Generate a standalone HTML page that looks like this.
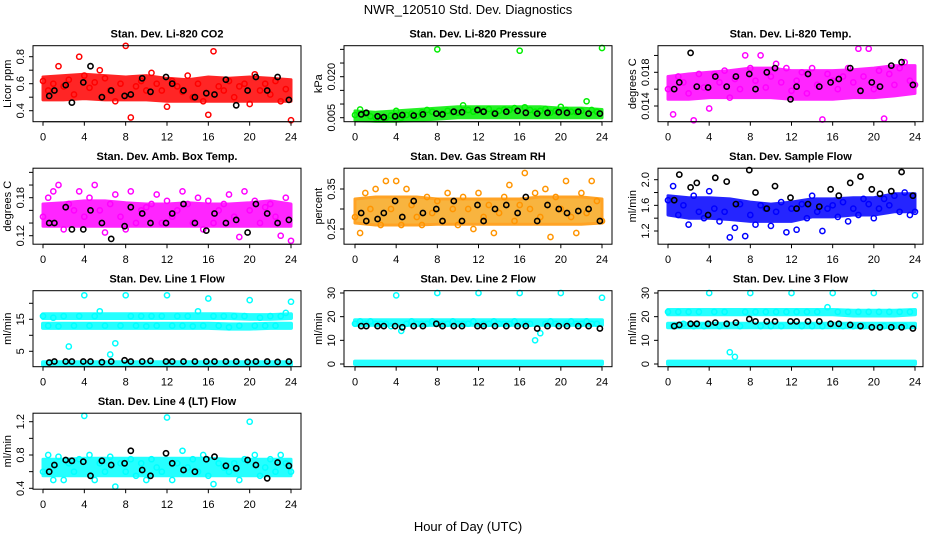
<!DOCTYPE html>
<html><head><meta charset="utf-8"><style>
html,body{margin:0;padding:0;background:#fff}
svg{display:block;font-family:"Liberation Sans",sans-serif}
</style></head><body>
<svg id="chart" width="936" height="540" viewBox="0 0 936 540" xmlns="http://www.w3.org/2000/svg">
<rect width="936" height="540" fill="#fff"/>
<text x="468" y="14" text-anchor="middle" font-size="13">NWR_120510  Std. Dev. Diagnostics</text>
<text x="468" y="531" text-anchor="middle" font-size="13">Hour of Day (UTC)</text>
<g id="panels"></g>
</svg>
<script>
const xTicks = [0,4,8,12,16,20,24];
const halfHours = [0,0.5,1,1.5,2,2.5,3,3.5,4,4.5,5,5.5,6,6.5,7,7.5,8,8.5,9,9.5,10,10.5,11,11.5,12,12.5,13,13.5,14,14.5,15,15.5,16,16.5,17,17.5,18,18.5,19,19.5,20,20.5,21,21.5,22,22.5,23,23.5,24];
const bandHours = [0,2,4,6,8,10,12,14,16,18,20,22,24];
const blackHours = [0.6,1.1,2.2,2.8,3.9,4.6,5.7,6.6,7.9,8.5,9.6,10.4,11.9,12.5,13.6,14.7,15.8,16.6,17.7,18.7,19.8,20.6,21.7,22.7,23.8];

const co2Main = [0.62,0.55,0.60,0.73,0.58,0.63,0.52,0.80,0.66,0.57,0.61,0.70,0.64,0.55,0.47,0.60,0.88,0.35,0.58,0.62,0.55,0.68,0.60,0.55,0.43,0.62,0.58,0.54,0.66,0.50,0.60,0.47,0.37,0.84,0.58,0.55,0.62,0.50,0.58,0.60,0.45,0.67,0.55,0.60,0.52,0.62,0.47,0.56,0.33];
const co2Black = [0.51,0.55,0.59,0.46,0.61,0.73,0.50,0.55,0.51,0.52,0.64,0.54,0.65,0.60,0.55,0.50,0.53,0.52,0.63,0.44,0.55,0.65,0.55,0.65,0.48];
const co2BandLo = [0.48,0.48,0.49,0.48,0.48,0.48,0.47,0.47,0.47,0.47,0.47,0.47,0.47];
const co2BandHi = [0.65,0.66,0.67,0.66,0.65,0.66,0.64,0.63,0.65,0.64,0.65,0.64,0.63];

const presMain = [0.006,0.008,0.0065,0.0055,0.005,0.0045,0.005,0.0058,0.0075,0.005,0.006,0.0065,0.0055,0.007,0.0078,0.0072,0.030,0.0065,0.0075,0.007,0.0068,0.0095,0.0078,0.0072,0.008,0.0075,0.0082,0.0068,0.0075,0.008,0.0078,0.0085,0.0295,0.0088,0.0078,0.0072,0.0075,0.0082,0.0068,0.0075,0.009,0.0078,0.0072,0.007,0.0075,0.011,0.0078,0.0072,0.0305];
const presBlack = [0.0062,0.0068,0.0055,0.0052,0.0055,0.006,0.0058,0.0062,0.0065,0.0062,0.0072,0.007,0.0078,0.0072,0.0065,0.0072,0.0075,0.0068,0.0065,0.0068,0.007,0.0068,0.0072,0.0065,0.0065];
const presBandLo = [0.004,0.0037,0.0037,0.004,0.0045,0.005,0.005,0.005,0.005,0.005,0.005,0.005,0.005];
const presBandHi = [0.0075,0.007,0.0075,0.008,0.0085,0.009,0.009,0.009,0.009,0.009,0.0085,0.0085,0.008];

const tempMain = [0.016,0.0130,0.0175,0.0168,0.0155,0.0123,0.0178,0.0162,0.0137,0.0178,0.0168,0.0182,0.0150,0.0172,0.0160,0.0200,0.0185,0.0170,0.0200,0.0162,0.0175,0.0190,0.0168,0.0185,0.0158,0.0170,0.0180,0.0155,0.0185,0.0165,0.0124,0.0178,0.0170,0.0160,0.0175,0.0185,0.0168,0.0208,0.0175,0.0208,0.0160,0.0182,0.0125,0.0178,0.0165,0.0185,0.0192,0.0170,0.0165];
const tempBlack = [0.016,0.0168,0.0203,0.0163,0.0162,0.0175,0.0163,0.0175,0.0178,0.016,0.018,0.0185,0.0148,0.0163,0.0178,0.0163,0.0168,0.0172,0.0185,0.0158,0.0168,0.0163,0.0188,0.0192,0.0165];
const tempBandLo = [0.0148,0.0148,0.0150,0.0150,0.0150,0.0150,0.0148,0.0148,0.0148,0.0150,0.0150,0.0152,0.0155];
const tempBandHi = [0.0175,0.0178,0.0180,0.0182,0.0185,0.0185,0.0182,0.0182,0.0182,0.0183,0.0185,0.0188,0.0188];

const ambMain = [0.15,0.18,0.19,0.20,0.13,0.17,0.16,0.19,0.15,0.18,0.20,0.16,0.125,0.17,0.185,0.15,0.13,0.19,0.14,0.16,0.165,0.17,0.185,0.14,0.175,0.15,0.16,0.19,0.17,0.14,0.18,0.13,0.175,0.14,0.16,0.17,0.185,0.15,0.118,0.19,0.16,0.175,0.14,0.165,0.17,0.15,0.12,0.18,0.112];
const ambBlack = [0.14,0.14,0.165,0.13,0.13,0.16,0.14,0.115,0.135,0.165,0.155,0.14,0.14,0.155,0.17,0.14,0.128,0.155,0.14,0.145,0.125,0.17,0.155,0.14,0.145];
const ambBandLo = [0.135,0.135,0.135,0.135,0.135,0.135,0.135,0.135,0.135,0.135,0.135,0.135,0.135];
const ambBandHi = [0.17,0.172,0.175,0.175,0.172,0.17,0.17,0.172,0.17,0.17,0.172,0.175,0.17];

const rhMain = [0.28,0.24,0.34,0.30,0.35,0.26,0.37,0.30,0.37,0.26,0.35,0.31,0.28,0.26,0.33,0.29,0.32,0.27,0.34,0.30,0.26,0.33,0.30,0.25,0.34,0.28,0.31,0.24,0.29,0.33,0.36,0.27,0.31,0.39,0.30,0.34,0.28,0.35,0.23,0.33,0.30,0.37,0.28,0.24,0.34,0.29,0.37,0.32,0.27];
const rhBlack = [0.29,0.27,0.275,0.29,0.32,0.28,0.32,0.29,0.30,0.27,0.32,0.27,0.31,0.27,0.30,0.31,0.29,0.33,0.27,0.31,0.30,0.29,0.295,0.30,0.27];
const rhBandLo = [0.265,0.26,0.26,0.26,0.262,0.262,0.262,0.262,0.262,0.262,0.262,0.262,0.265];
const rhBandHi = [0.325,0.33,0.33,0.33,0.325,0.325,0.325,0.325,0.325,0.33,0.33,0.33,0.325];

const flowMain = [1.68,1.90,1.45,1.60,1.30,1.75,1.50,1.40,1.82,1.55,1.35,1.50,1.10,1.25,1.62,1.12,1.45,1.30,1.60,1.55,1.28,1.50,1.65,1.18,1.55,1.22,1.62,1.40,1.75,1.50,1.20,1.55,1.60,1.42,1.65,1.35,1.55,1.45,1.70,1.62,1.40,1.55,1.70,1.60,1.75,1.50,1.80,1.45,1.50];
const flowBlack = [1.68,2.08,1.88,1.95,1.45,2.03,1.97,1.62,2.15,1.80,1.55,1.90,1.72,1.55,1.62,1.58,1.85,1.75,1.95,2.05,1.85,1.78,1.82,2.12,1.75];
const flowBandLo = [1.45,1.40,1.40,1.38,1.35,1.35,1.35,1.42,1.42,1.45,1.45,1.50,1.50];
const flowBandHi = [1.75,1.72,1.72,1.70,1.65,1.62,1.65,1.70,1.70,1.72,1.72,1.78,1.78];

const line1Main = [16,13,15.5,12.8,16,6.5,13,16,22.5,13,16,17.5,13,4,7.5,13,22.5,16,13,16,12.8,16,13,16,22.5,13,16,13,16,12.8,17.5,13,21.5,16,13,16,12.5,16,13,16,21,13,15.5,13,16,13,16,17,20.5];
const line1Black = [1.5,1.8,1.8,1.8,1.8,1.8,1.6,1.8,2.2,1.8,1.8,2.0,1.8,1.8,1.8,1.8,1.8,1.8,1.8,1.8,1.7,1.8,1.8,1.7,1.8];
const line1Band1Lo = [15.4,15.4,15.4,15.4,15.4,15.4,15.4,15.4,15.4,15.4,15.2,15.2,15.4];
const line1Band1Hi = [16.6,16.6,16.6,16.6,16.6,16.6,16.6,16.6,16.6,16.6,16.3,16.3,16.6];
const line1Band2Lo = [12.3,12.3,12.3,12.3,12.3,12.3,12.3,12.3,12.3,12.1,12.1,12.3,12.3];
const line1Band2Hi = [13.6,13.6,13.6,13.6,13.6,13.6,13.6,13.6,13.6,13.4,13.4,13.6,13.6];
const line1Band3Lo = [0.8,0.8,0.8,0.8,0.8,0.8,0.8,0.8,0.8,0.8,0.8,0.8,0.8];
const line1Band3Hi = [1.6,1.6,1.6,1.6,1.6,1.6,1.6,1.6,1.6,1.6,1.6,1.6,1.6];

const line2Main = [17,18,17,18,17,17,17,16,29,14,17,18,17,17,17,18,30,17,17,18,17,17,17,18,30,17,17,18,17,17,17,18,30,17,17,10,13,17,18,17,30,17,18,17,17,18,17,17,28];
const line2Black = [16,16,16,16,16,15.5,16,16,17,16,16,16,16,16,16,16,16,16,15,16,16,16,16,16,15];
const line2Band1Lo = [16.5,16.5,16.5,16.5,16.5,16.5,16.5,16.5,16.5,16.5,16.5,16.5,16.5];
const line2Band1Hi = [18.5,18.5,18.5,18.5,18.5,18.5,18.5,18.5,18.5,18.5,18.5,18.5,18.5];
const line2Band2Lo = [0,0,0,0,0,0,0,0,0,0,0,0,0];
const line2Band2Hi = [1,1,1,1,1,1,1,1,1,1,1,1,1];

const line3Main = [22,16,22,17,22,16,22,16,30,22,16,22,5,3,16,22,30,22,16,22,16,22,16,22,30,22,16,22,16,22,16,24,30,22,16,22,16,22,16,22,30,22,16,22,16,22,16,22,29];
const line3Black = [16,16.5,17,17,17,17.5,17,17.5,19,18,18,18,18,18,18,18,17,17,16.5,16,15.5,15.5,15.5,15.5,15];
const line3Band1Lo = [21,21,21,21,21,21,21,21,21,20.5,20.5,20.5,21];
const line3Band1Hi = [22.8,22.8,22.8,22.8,22.8,22.8,22.8,22.8,22.8,22.5,22.5,22.5,22.8];
const line3Band2Lo = [15.5,15.5,15.5,15.5,15.5,15.5,15.5,15.5,15.5,15.5,15.5,15.5,15.5];
const line3Band2Hi = [17,17,17,17,17,17,17,17,17,17,17,17,17];
const line3Band3Lo = [0,0,0,0,0,0,0,0,0,0,0,0,0];
const line3Band3Hi = [1,1,1,1,1,1,1,1,1,1,1,1,1];

const line4Main = [0.6,0.8,0.5,0.78,0.5,0.7,0.6,0.75,1.27,0.8,0.5,0.7,0.6,0.78,0.42,0.7,0.6,0.75,0.55,0.7,0.5,0.75,0.65,0.6,1.25,0.5,0.7,0.85,0.65,0.75,0.6,0.8,0.55,0.45,0.7,0.65,0.6,0.7,0.5,0.75,1.2,0.8,0.55,0.65,0.75,0.6,0.8,0.7,0.6];
const line4Black = [0.6,0.68,0.74,0.73,0.72,0.55,0.73,0.68,0.7,0.85,0.62,0.55,0.82,0.7,0.62,0.6,0.75,0.78,0.67,0.64,0.74,0.68,0.52,0.71,0.67];
const line4BandLo = [0.55,0.55,0.55,0.55,0.55,0.55,0.55,0.55,0.55,0.55,0.55,0.55,0.55];
const line4BandHi = [0.75,0.75,0.76,0.76,0.76,0.76,0.76,0.76,0.76,0.75,0.75,0.75,0.75];

const NS = "http://www.w3.org/2000/svg";
const colLeft = [33,344,658], colRight = [301,612,923], colX0 = [43,355,668], colX24 = [291,602,915];
const rowTop = [45.7,168.2,290.7,413.2], boxH = 76;

const panels = [
 {key:'co2',title:'Stan. Dev. Li-820 CO2',ylab:'Licor ppm',r:0,c:0,color:'#ff0000',main:co2Main,black:co2Black,bands:[[co2BandLo,co2BandHi]],cal:[0.8,56.7,0.4,110.7],ticks:[0.4,0.5,0.6,0.7,0.8],labels:['0.4','0.6','0.8'],sw:3},
 {key:'pressure',title:'Stan. Dev. Li-820 Pressure',ylab:'kPa',r:0,c:1,color:'#00ee00',main:presMain,black:presBlack,bands:[[presBandLo,presBandHi]],cal:[0.020,76.7,0.005,117.7],ticks:[0.005,0.010,0.015,0.020,0.025,0.030],labels:['0.005','0.020'],sw:3},
 {key:'temp',title:'Stan. Dev. Li-820 Temp.',ylab:'degrees C',r:0,c:2,color:'#ff00ff',main:tempMain,black:tempBlack,bands:[[tempBandLo,tempBandHi]],cal:[0.018,72.3,0.014,106],ticks:[0.014,0.016,0.018,0.020],labels:['0.014','0.018'],sw:3},
 {key:'ambtemp',title:'Stan. Dev. Amb. Box Temp.',ylab:'degrees C',r:1,c:0,color:'#ff00ff',main:ambMain,black:ambBlack,bands:[[ambBandLo,ambBandHi]],cal:[0.18,197.7,0.12,235.7],ticks:[0.12,0.14,0.16,0.18,0.20,0.22],labels:['0.12','0.18'],sw:3},
 {key:'rh',title:'Stan. Dev. Gas Stream RH',ylab:'percent',r:1,c:1,color:'#ff9400',main:rhMain,black:rhBlack,bands:[[rhBandLo,rhBandHi]],cal:[0.35,189,0.25,229],ticks:[0.25,0.30,0.35],labels:['0.25','0.35'],fill:'#f7a81e',sw:3},
 {key:'sampleflow',title:'Stan. Dev. Sample Flow',ylab:'ml/min',r:1,c:2,color:'#0000ff',main:flowMain,black:flowBlack,bands:[[flowBandLo,flowBandHi]],cal:[2.0,179.7,1.2,231],ticks:[1.2,1.4,1.6,1.8,2.0],labels:['1.2','1.6','2.0'],sw:3},
 {key:'line1',title:'Stan. Dev. Line 1 Flow',ylab:'ml/min',r:2,c:0,color:'#00ffff',main:line1Main,black:line1Black,bands:[[line1Band1Lo,line1Band1Hi],[line1Band2Lo,line1Band2Hi],[line1Band3Lo,line1Band3Hi]],cal:[15,319.3,5,351.3],ticks:[5,10,15,20],labels:['5','15'],sw:4},
 {key:'line2',title:'Stan. Dev. Line 2 Flow',ylab:'ml/min',r:2,c:1,color:'#00ffff',main:line2Main,black:line2Black,bands:[[line2Band1Lo,line2Band1Hi],[line2Band2Lo,line2Band2Hi]],cal:[30,293,0,364],ticks:[0,10,20,30],labels:['0','10','20','30'],sw:4},
 {key:'line3',title:'Stan. Dev. Line 3 Flow',ylab:'ml/min',r:2,c:2,color:'#00ffff',main:line3Main,black:line3Black,bands:[[line3Band1Lo,line3Band1Hi],[line3Band2Lo,line3Band2Hi],[line3Band3Lo,line3Band3Hi]],cal:[30,293,0,364],ticks:[0,10,20,30],labels:['0','10','20','30'],sw:4},
 {key:'line4',title:'Stan. Dev. Line 4 (LT) Flow',ylab:'ml/min',r:3,c:0,color:'#00ffff',main:line4Main,black:line4Black,bands:[[line4BandLo,line4BandHi]],cal:[1.2,421.7,0.4,488.3],ticks:[0.4,0.6,0.8,1.0,1.2],labels:['0.4','0.8','1.2'],sw:3}
];

function mk(tag, attrs, parent){
  const e = document.createElementNS(NS, tag);
  for (const k in attrs) e.setAttribute(k, attrs[k]);
  parent.appendChild(e);
  return e;
}
const root = document.getElementById('panels');

panels.forEach(p => {
  const L = colLeft[p.c], R = colRight[p.c], T = rowTop[p.r], B = T + boxH;
  const x = h => colX0[p.c] + (h/24)*(colX24[p.c]-colX0[p.c]);
  const [v1,py1,v2,py2] = p.cal;
  const y = v => py1 + (v - v1)*(py2-py1)/(v2-v1);
  const g = mk('g', {}, root);
  
  

  p.bands.forEach((b, bi) => {
    let d = '';
    bandHours.forEach((h,i) => { d += (i ? 'L' : 'M') + x(h).toFixed(1) + ',' + y(b[1][i]).toFixed(1); });
    for (let i = bandHours.length-1; i >= 0; i--) d += 'L' + x(bandHours[i]).toFixed(1) + ',' + y(b[0][i]).toFixed(1);
    const band = mk('path', {d: d+'Z', fill: p.fill || p.color, stroke: p.color, 'stroke-width': p.sw, 'stroke-linejoin':'round', opacity: 0.85}, g);
    
    
  });
  p.main.forEach((v,i) => {
    const c = mk('circle', {cx: x(halfHours[i]).toFixed(1), cy: y(v).toFixed(1), r: 2.6, fill: 'none', stroke: p.color, 'stroke-width': 1.5}, g);
    
    
  });
  p.black.forEach((v,i) => {
    const c = mk('circle', {cx: x(blackHours[i]).toFixed(1), cy: y(v).toFixed(1), r: 2.6, fill: 'none', stroke: '#000', 'stroke-width': 1.6}, g);
    
    
  });
  const box = mk('rect', {x: L, y: T, width: R-L, height: boxH, fill: 'none', stroke: '#000', 'stroke-width': 1}, g);
  
  
  const t = mk('text', {x: (L+R)/2, y: T-8, 'text-anchor':'middle', 'font-size': 11, 'font-weight':'bold'}, g);
  t.textContent = p.title;
  
  
  const xa = mk('g', {}, g);
  
  
  mk('line', {x1: x(0), x2: x(24), y1: B, y2: B, stroke:'#000'}, xa);
  xTicks.forEach(h => {
    mk('line', {x1: x(h), x2: x(h), y1: B, y2: B+4, stroke:'#000'}, xa);
    const tl = mk('text', {x: x(h), y: B+19, 'text-anchor':'middle', 'font-size': 11}, xa);
    tl.textContent = h;
    
    
  });
  const ya = mk('g', {}, g);
  
  
  const t0 = p.ticks[0], tN = p.ticks[p.ticks.length-1];
  mk('line', {x1: L, x2: L, y1: y(t0), y2: y(tN), stroke:'#000'}, ya);
  p.ticks.forEach(v => mk('line', {x1: L-4, x2: L, y1: y(v), y2: y(v), stroke:'#000'}, ya));
  p.labels.forEach(s => {
    const v = parseFloat(s);
    const lx = L - 9, ly = y(v);
    const tl = mk('text', {x: lx, y: ly, 'text-anchor':'middle', 'font-size': 11, transform: `rotate(-90 ${lx} ${ly})`}, ya);
    tl.textContent = s;
    
    
  });
  const yx = L - 22, yy = T + boxH/2;
  const yt = mk('text', {x: yx, y: yy, 'text-anchor':'middle', 'font-size': 11, transform: `rotate(-90 ${yx} ${yy})`}, g);
  yt.textContent = p.ylab;
  
  
});
</script>
</body></html>
